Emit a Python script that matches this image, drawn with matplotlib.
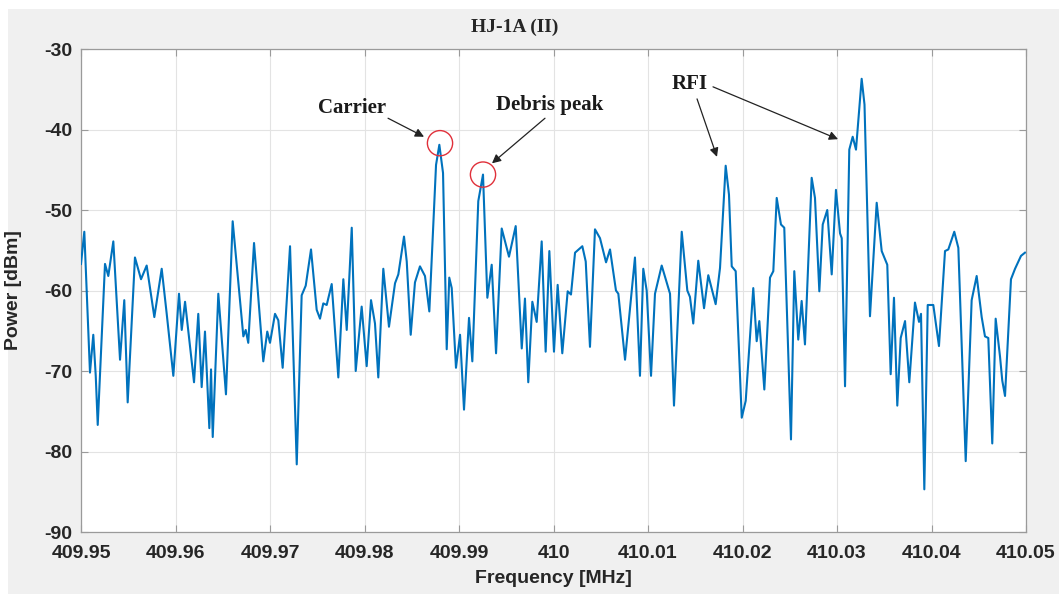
import matplotlib
matplotlib.use("Agg")
import matplotlib.pyplot as plt
from matplotlib.patches import Rectangle

plt.rcParams["axes.unicode_minus"] = False

# spectrum trace, frequency in MHz and power in dBm
freq_mhz = [
    409.95000, 409.95035, 409.95095, 409.95130, 409.95156, 409.95177, 409.95254, 409.95289,
    409.95342, 409.95413, 409.95458, 409.95494, 409.95571, 409.95635, 409.95695, 409.95776,
    409.95854, 409.95907, 409.95977, 409.96037, 409.96066, 409.96101, 409.96196, 409.96241,
    409.96277, 409.96312, 409.96358, 409.96376, 409.96394, 409.96453, 409.96534, 409.96605,
    409.96718, 409.96743, 409.96770, 409.96831, 409.96929, 409.96971, 409.97000, 409.97053,
    409.97088, 409.97134, 409.97212, 409.97283, 409.97335, 409.97378, 409.97434, 409.97494,
    409.97529, 409.97564, 409.97600, 409.97653, 409.97723, 409.97776, 409.97812, 409.97865,
    409.97907, 409.97970, 409.98023, 409.98069, 409.98111, 409.98146, 409.98199, 409.98259,
    409.98323, 409.98358, 409.98418, 409.98447, 409.98489, 409.98534, 409.98587, 409.98640,
    409.98686, 409.98757, 409.98792, 409.98831, 409.98870, 409.98897, 409.98923, 409.98968,
    409.99011, 409.99053, 409.99106, 409.99141, 409.99204, 409.99254, 409.99300, 409.99346,
    409.99392, 409.99452, 409.99529, 409.99600, 409.99664, 409.99698, 409.99733, 409.99776,
    409.99822, 409.99875, 409.99917, 409.99956, 410.00005, 410.00044, 410.00093, 410.00150,
    410.00185, 410.00228, 410.00305, 410.00341, 410.00386, 410.00439, 410.00492, 410.00556,
    410.00598, 410.00661, 410.00686, 410.00757, 410.00862, 410.00915, 410.00950, 410.00986,
    410.01032, 410.01074, 410.01145, 410.01233, 410.01275, 410.01357, 410.01416, 410.01444,
    410.01479, 410.01532, 410.01593, 410.01638, 410.01716, 410.01762, 410.01822, 410.01857,
    410.01886, 410.01928, 410.01992, 410.02034, 410.02114, 410.02150, 410.02178, 410.02231,
    410.02291, 410.02326, 410.02362, 410.02407, 410.02442, 410.02513, 410.02548, 410.02590,
    410.02626, 410.02661, 410.02732, 410.02767, 410.02813, 410.02849, 410.02897, 410.02944,
    410.02989, 410.03032, 410.03050, 410.03085, 410.03130, 410.03166, 410.03201, 410.03261,
    410.03291, 410.03349, 410.03420, 410.03473, 410.03532, 410.03568, 410.03603, 410.03638,
    410.03674, 410.03720, 410.03765, 410.03825, 410.03868, 410.03889, 410.03924, 410.03960,
    410.04019, 410.04079, 410.04143, 410.04178, 410.04241, 410.04284, 410.04362, 410.04425,
    410.04478, 410.04531, 410.04566, 410.04601, 410.04643, 410.04679, 410.04725, 410.04749,
    410.04778, 410.04841, 410.04884, 410.04947, 410.04989,
]
power_dbm = [
    -56.7, -52.7, -70.2, -65.5, -70.6, -76.7, -56.7, -58.2,
    -53.9, -68.6, -61.2, -73.9, -55.9, -58.6, -56.9, -63.3,
    -57.3, -62.9, -70.6, -60.4, -64.9, -61.4, -71.4, -62.9,
    -72.0, -65.1, -77.1, -69.8, -78.2, -60.4, -72.9, -51.4,
    -65.7, -64.9, -66.5, -54.1, -68.8, -65.1, -66.5, -62.9,
    -63.7, -69.6, -54.5, -81.6, -60.6, -59.4, -54.9, -62.4,
    -63.5, -61.6, -61.8, -59.2, -70.8, -58.6, -64.9, -52.2,
    -70.0, -62.0, -69.4, -61.2, -64.1, -70.8, -57.3, -64.5,
    -59.1, -58.0, -53.3, -56.4, -65.5, -59.0, -57.0, -58.2,
    -62.6, -44.4, -41.9, -45.4, -67.3, -58.4, -59.7, -69.6,
    -65.5, -74.8, -63.4, -68.8, -48.9, -45.6, -60.9, -56.8,
    -67.8, -52.3, -55.8, -52.0, -67.2, -61.0, -71.4, -61.4,
    -63.9, -53.9, -67.6, -55.1, -67.6, -59.3, -67.8, -60.1,
    -60.5, -55.3, -54.5, -56.4, -67.0, -52.4, -53.5, -56.5,
    -54.9, -60.0, -60.4, -68.6, -55.9, -70.6, -57.3, -60.0,
    -70.6, -60.4, -56.9, -60.4, -74.3, -52.7, -60.0, -60.8,
    -64.1, -56.3, -62.2, -58.1, -61.7, -57.2, -44.5, -48.1,
    -57.0, -57.6, -75.8, -73.7, -59.7, -66.3, -63.8, -72.3,
    -58.4, -57.6, -48.5, -51.8, -52.2, -78.5, -57.6, -66.1,
    -61.3, -66.7, -46.0, -48.5, -60.1, -51.8, -50.0, -58.0,
    -47.5, -52.9, -53.5, -71.9, -42.5, -40.9, -42.5, -33.7,
    -36.9, -63.2, -49.1, -55.1, -56.8, -70.4, -60.9, -74.3,
    -65.9, -63.8, -71.4, -61.5, -63.9, -62.9, -84.7, -61.8,
    -61.8, -66.9, -55.1, -54.9, -52.7, -54.7, -81.2, -61.2,
    -58.2, -63.3, -65.7, -65.9, -79.0, -63.5, -68.2, -71.2,
    -73.1, -58.6, -57.3, -55.7, -55.3,
]

x_ticks = [409.95, 409.96, 409.97, 409.98, 409.99, 410.00,
           410.01, 410.02, 410.03, 410.04, 410.05]
x_tick_labels = ["409.95", "409.96", "409.97", "409.98", "409.99", "410",
                 "410.01", "410.02", "410.03", "410.04", "410.05"]
y_ticks = [-90, -80, -70, -60, -50, -40, -30]

# marked peaks (circled)
carrier_pt = (409.98799, -41.7)
debris_pt = (409.99254, -45.6)

serif = ["Liberation Serif", "DejaVu Serif"]
sans = ["Liberation Sans", "DejaVu Sans"]
dark = "#262626"

fig = plt.figure(figsize=(10.59, 5.94), dpi=100, facecolor="white")
fig.patches.append(Rectangle((8 / 1059, 0), 1, 1 - 9 / 594,
                             transform=fig.transFigure, facecolor="#f0f0f0",
                             edgecolor="none", zorder=-10))
ax = fig.add_axes([81 / 1059, 1 - 532 / 594, 945 / 1059, 483 / 594])
ax.set_facecolor("white")

ax.plot(freq_mhz, power_dbm, color="#0072BD", lw=1.5, zorder=3,
        solid_joinstyle="round")

ax.set_xlim(409.95, 410.05)
ax.set_ylim(-90, -30)
ax.set_xticks(x_ticks)
ax.set_xticklabels(x_tick_labels)
ax.set_yticks(y_ticks)
ax.grid(True, color="#e3e3e3", lw=0.8)
ax.set_axisbelow(True)

for s in ax.spines.values():
    s.set_color("#9a9a9a")
    s.set_linewidth(0.9)
ax.tick_params(direction="in", length=5, width=0.8, color="#9a9a9a",
               top=True, right=True, labelcolor=dark)
ax.tick_params(axis="x", pad=9)
ax.tick_params(axis="y", pad=6)
for lab in ax.get_xticklabels() + ax.get_yticklabels():
    lab.set_family(sans)
    lab.set_fontweight("bold")
    lab.set_fontsize(14)

ax.set_xlabel("Frequency [MHz]", family=sans, fontweight="bold",
              fontsize=14, color=dark)
ax.set_ylabel("Power [dBm]", family=sans, fontweight="bold",
              fontsize=14, color=dark)
ax.xaxis.set_label_coords(0.5, -0.078)
ax.yaxis.set_label_coords(-0.062, 0.5)

fig.text(515 / 1059, 1 - 27 / 594, "HJ-1A (II)", family=serif,
         fontweight="bold", fontsize=14, ha="center", va="center", color=dark)

# red circles around carrier and debris peak
ax.scatter(*carrier_pt, s=330, facecolors="none", edgecolors="#e0303a",
           linewidths=1.0, zorder=4)
ax.scatter(*debris_pt, s=330, facecolors="none", edgecolors="#e0303a",
           linewidths=1.0, zorder=4)

arrow = dict(arrowstyle="-|>", color="#222222", lw=0.9, mutation_scale=13,
             shrinkA=0, shrinkB=0)
txt = dict(family=serif, fontweight="bold", fontsize=15, color="#1a1a1a")

ax.text(409.98228, -37.3, "Carrier", ha="right", va="center", **txt)
ax.annotate("", xy=(409.98630, -40.9), xytext=(409.98249, -38.6),
            arrowprops=arrow)

ax.text(409.99963, -36.9, "Debris peak", ha="center", va="center", **txt)
ax.annotate("", xy=(409.99349, -44.2), xytext=(409.99910, -38.6),
            arrowprops=arrow)

ax.text(410.01444, -34.35, "RFI", ha="center", va="center", **txt)
ax.annotate("", xy=(410.01730, -43.4), xytext=(410.01519, -36.2),
            arrowprops=arrow)
ax.annotate("", xy=(410.03011, -41.2), xytext=(410.01688, -34.7),
            arrowprops=arrow)

fig.savefig("out.png", dpi=100, facecolor=fig.get_facecolor())
